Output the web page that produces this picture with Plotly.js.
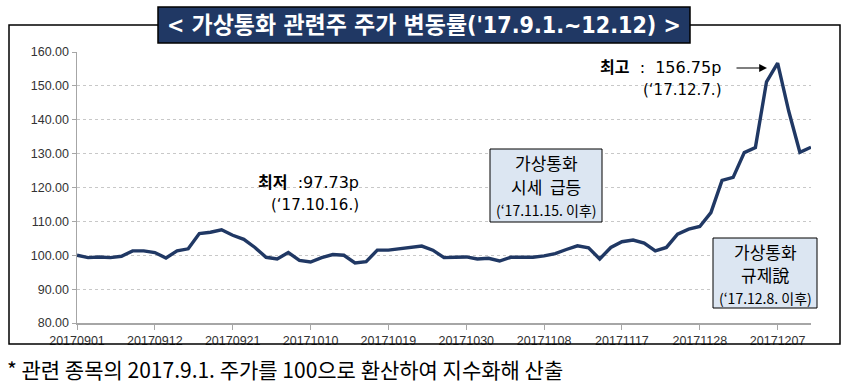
<!DOCTYPE html>
<html><head><meta charset="utf-8">
<script src="https://cdn.plot.ly/plotly-3.0.1.min.js"></script>
<style>html,body{margin:0;padding:0;background:#fff;}#chart{width:848px;height:385px;}</style>
</head><body><div id="chart"></div>
<script>
const dates = ['20170901','20170904','20170905','20170906','20170907','20170908',
 '20170911','20170912','20170913','20170914','20170915',
 '20170918','20170919','20170920','20170921','20170922',
 '20170925','20170926','20170927','20170928','20170929',
 '20171010','20171011','20171012','20171013',
 '20171016','20171017','20171018','20171019','20171020',
 '20171023','20171024','20171025','20171026','20171027',
 '20171030','20171031','20171101','20171102','20171103',
 '20171106','20171107','20171108','20171109','20171110',
 '20171113','20171114','20171115','20171116','20171117',
 '20171120','20171121','20171122','20171123','20171124',
 '20171127','20171128','20171129','20171130','20171201',
 '20171204','20171205','20171206','20171207','20171208',
 '20171211','20171212'];
const values = [100.0,99.3,99.5,99.3,99.7,101.3,
 101.3,100.8,99.2,101.3,101.9,
 106.4,106.8,107.5,105.9,104.7,
 102.3,99.4,98.9,100.8,98.5,
 98.0,99.3,100.2,100.0,
 97.73,98.1,101.5,101.5,101.9,
 102.1,102.7,101.5,99.3,99.4,
 99.5,98.9,99.1,98.3,99.4,
 99.4,99.4,99.8,100.5,101.7,
 102.8,102.2,98.9,102.3,104.0,
 104.5,103.6,101.3,102.3,106.2,
 107.7,108.5,112.6,122.1,123.0,
 130.3,131.8,151.2,156.75,142.5,
 130.4,131.9];
const tickDates = ['20170901','20170912','20170921','20171010','20171019','20171030','20171108','20171117','20171128','20171207'];
const yTicks = [80,90,100,110,120,130,140,150,160];

const titleText = '< 가상통화 관련주 주가 변동률(\'17.9.1.~12.12) >';
const footText = '* 관련 종목의 2017.9.1. 주가를 100으로 환산하여 지수화해 산출';

const L = 77, R = 37, T = 52, B = 62, W = 848, H = 385;
const pw = W - L - R, ph = H - T - B;
const xp = p => (p - L) / pw;
const yp = p => (H - B - p) / ph;
const KR = 'Noto Sans CJK KR, sans-serif';
const MIX = 'DejaVu Sans, Noto Sans CJK KR, sans-serif';

const trace = {
  x: dates, y: values, type: 'scatter', mode: 'lines',
  line: {color: '#203864', width: 3.4}, hoverinfo: 'skip'
};

const shapes = [
  {type:'rect', xref:'paper', yref:'paper', x0:xp(9), x1:xp(840), y0:yp(344), y1:yp(25),
   line:{color:'#000', width:1.5}, fillcolor:'rgba(0,0,0,0)', layer:'above'},
  {type:'rect', xref:'paper', yref:'paper', x0:xp(158), x1:xp(690), y0:yp(43), y1:yp(7),
   line:{color:'#000', width:1.5}, fillcolor:'#203864', layer:'above'},
  {type:'rect', xref:'paper', yref:'paper', x0:xp(490), x1:xp(602), y0:yp(222), y1:yp(149),
   line:{color:'#000', width:1}, fillcolor:'#DCE6F2', layer:'above'},
  {type:'rect', xref:'paper', yref:'paper', x0:xp(713), x1:xp(817), y0:yp(308), y1:yp(238),
   line:{color:'#000', width:1}, fillcolor:'#DCE6F2', layer:'above'}
];

function txt(t, x, y, size, opts) {
  return Object.assign({text:t, xref:'paper', yref:'paper', x:xp(x), y:yp(y),
    xanchor:'center', yanchor:'middle', showarrow:false,
    font:{family:KR, size:size, color:'#000'}}, opts || {});
}

const annotations = [
  txt(titleText, 424, 25, 23, {font:{family:'DejaVu Sans Condensed, Noto Sans CJK KR, sans-serif', size:23, color:'#fff', weight:'bold'}}),
  txt(footText, 5, 369, 21, {xanchor:'left'}),
  txt('<b>최저</b>  :97.73p', 308, 182, 16, {font:{family:MIX, size:16, color:'#000'}}),
  txt('(\u201817.10.16.)', 315, 205, 15, {font:{family:MIX, size:15, color:'#000'}}),
  txt('<b>최고</b>  :  156.75p', 660, 67, 16, {font:{family:MIX, size:16, color:'#000'}}),
  txt('(\u201817.12.7.)', 682, 90, 15, {font:{family:MIX, size:15, color:'#000'}}),
  txt('가상통화', 546, 162, 17),
  txt('시세  급등', 546, 186, 17),
  txt('(\u201817.11.15. 이후)', 546, 210, 14),
  txt('가상통화', 765, 251, 17),
  txt('규제說', 765, 274, 17),
  txt('(\u201817.12.8. 이후)', 765, 298, 14),
  {text:'', xref:'x', yref:'y', x:'20171016', y:98.2, ax:0, ay:-42, showarrow:true,
   arrowhead:2, arrowsize:1.3, arrowwidth:1.2, arrowcolor:'#000'},
  {text:'', xref:'paper', yref:'paper', x:xp(767), y:yp(68), ax:-32, ay:0, showarrow:true,
   arrowhead:2, arrowsize:1.3, arrowwidth:1.2, arrowcolor:'#000'}
];

const tickFont = {family:'Liberation Sans, Arial, sans-serif', size:12.5, color:'#333'};

const layout = {
  width: W, height: H,
  margin: {l:L, r:R, t:T, b:B, pad:0},
  paper_bgcolor:'#fff', plot_bgcolor:'rgba(0,0,0,0)',
  showlegend:false,
  font:{family:'Liberation Sans, Arial, sans-serif', size:12, color:'#333'},
  xaxis: {
    type:'category', range:[0, dates.length - 1],
    tickmode:'array', tickvals:tickDates, ticktext:tickDates,
    ticks:'outside', ticklen:5, tickcolor:'#a6a6a6', tickwidth:1,
    showline:true, linecolor:'#a6a6a6', linewidth:1.5,
    showgrid:false, zeroline:false, tickangle:0,
    tickfont:tickFont
  },
  yaxis: {
    range:[80,160], tickmode:'array', tickvals:yTicks, tickformat:'.2f',
    ticks:'outside', ticklen:4, tickcolor:'#a6a6a6',
    showline:true, linecolor:'#a6a6a6', linewidth:1.5,
    showgrid:true, gridcolor:'#c8c8c8', griddash:'dot', gridwidth:1,
    zeroline:false,
    tickfont:tickFont
  },
  shapes: shapes,
  annotations: annotations
};

Plotly.newPlot('chart', [trace], layout, {staticPlot:true, displayModeBar:false});
</script></body></html>
